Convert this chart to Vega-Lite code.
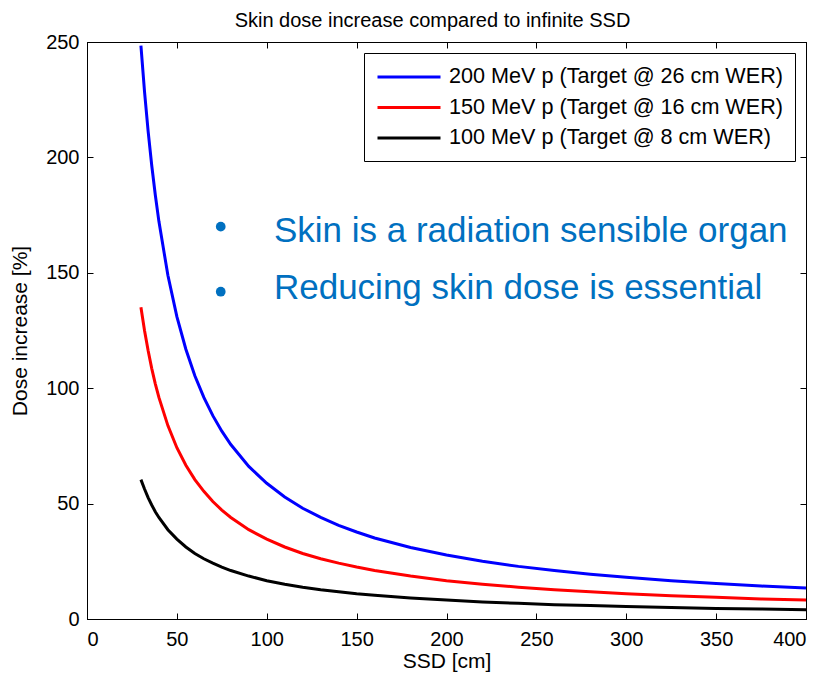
{
  "$schema": "https://vega.github.io/schema/vega-lite/v6.json",
  "width": 719,
  "height": 577,
  "autosize": {"type": "none"},
  "padding": {"left": 87, "top": 42, "right": 20, "bottom": 60},
  "background": "white",
  "title": {
    "text": "Skin dose increase compared to infinite SSD",
    "font": "Liberation Sans",
    "fontSize": 20,
    "fontWeight": "normal",
    "color": "black",
    "offset": 1,
    "dx": -14
  },
  "datasets": {
    "curves": [
      {"ssd": 30, "dose": 248.4, "beam": "200 MeV p (Target @ 26 cm WER)"},
      {"ssd": 32, "dose": 228.5, "beam": "200 MeV p (Target @ 26 cm WER)"},
      {"ssd": 34, "dose": 211.4, "beam": "200 MeV p (Target @ 26 cm WER)"},
      {"ssd": 36, "dose": 196.6, "beam": "200 MeV p (Target @ 26 cm WER)"},
      {"ssd": 38, "dose": 183.7, "beam": "200 MeV p (Target @ 26 cm WER)"},
      {"ssd": 40, "dose": 172.3, "beam": "200 MeV p (Target @ 26 cm WER)"},
      {"ssd": 45, "dose": 148.9, "beam": "200 MeV p (Target @ 26 cm WER)"},
      {"ssd": 50, "dose": 131.0, "beam": "200 MeV p (Target @ 26 cm WER)"},
      {"ssd": 55, "dose": 116.9, "beam": "200 MeV p (Target @ 26 cm WER)"},
      {"ssd": 60, "dose": 105.4, "beam": "200 MeV p (Target @ 26 cm WER)"},
      {"ssd": 65, "dose": 96.0, "beam": "200 MeV p (Target @ 26 cm WER)"},
      {"ssd": 70, "dose": 88.1, "beam": "200 MeV p (Target @ 26 cm WER)"},
      {"ssd": 75, "dose": 81.4, "beam": "200 MeV p (Target @ 26 cm WER)"},
      {"ssd": 80, "dose": 75.6, "beam": "200 MeV p (Target @ 26 cm WER)"},
      {"ssd": 90, "dose": 66.1, "beam": "200 MeV p (Target @ 26 cm WER)"},
      {"ssd": 100, "dose": 58.8, "beam": "200 MeV p (Target @ 26 cm WER)"},
      {"ssd": 110, "dose": 52.9, "beam": "200 MeV p (Target @ 26 cm WER)"},
      {"ssd": 120, "dose": 48.0, "beam": "200 MeV p (Target @ 26 cm WER)"},
      {"ssd": 130, "dose": 44.0, "beam": "200 MeV p (Target @ 26 cm WER)"},
      {"ssd": 140, "dose": 40.6, "beam": "200 MeV p (Target @ 26 cm WER)"},
      {"ssd": 150, "dose": 37.7, "beam": "200 MeV p (Target @ 26 cm WER)"},
      {"ssd": 160, "dose": 35.1, "beam": "200 MeV p (Target @ 26 cm WER)"},
      {"ssd": 180, "dose": 31.0, "beam": "200 MeV p (Target @ 26 cm WER)"},
      {"ssd": 200, "dose": 27.7, "beam": "200 MeV p (Target @ 26 cm WER)"},
      {"ssd": 220, "dose": 25.0, "beam": "200 MeV p (Target @ 26 cm WER)"},
      {"ssd": 240, "dose": 22.8, "beam": "200 MeV p (Target @ 26 cm WER)"},
      {"ssd": 260, "dose": 21.0, "beam": "200 MeV p (Target @ 26 cm WER)"},
      {"ssd": 280, "dose": 19.4, "beam": "200 MeV p (Target @ 26 cm WER)"},
      {"ssd": 300, "dose": 18.1, "beam": "200 MeV p (Target @ 26 cm WER)"},
      {"ssd": 325, "dose": 16.6, "beam": "200 MeV p (Target @ 26 cm WER)"},
      {"ssd": 350, "dose": 15.4, "beam": "200 MeV p (Target @ 26 cm WER)"},
      {"ssd": 375, "dose": 14.3, "beam": "200 MeV p (Target @ 26 cm WER)"},
      {"ssd": 400, "dose": 13.4, "beam": "200 MeV p (Target @ 26 cm WER)"},
      {"ssd": 30, "dose": 135.1, "beam": "150 MeV p (Target @ 16 cm WER)"},
      {"ssd": 32, "dose": 125.0, "beam": "150 MeV p (Target @ 16 cm WER)"},
      {"ssd": 34, "dose": 116.3, "beam": "150 MeV p (Target @ 16 cm WER)"},
      {"ssd": 36, "dose": 108.6, "beam": "150 MeV p (Target @ 16 cm WER)"},
      {"ssd": 38, "dose": 101.9, "beam": "150 MeV p (Target @ 16 cm WER)"},
      {"ssd": 40, "dose": 96.0, "beam": "150 MeV p (Target @ 16 cm WER)"},
      {"ssd": 45, "dose": 83.8, "beam": "150 MeV p (Target @ 16 cm WER)"},
      {"ssd": 50, "dose": 74.2, "beam": "150 MeV p (Target @ 16 cm WER)"},
      {"ssd": 55, "dose": 66.6, "beam": "150 MeV p (Target @ 16 cm WER)"},
      {"ssd": 60, "dose": 60.4, "beam": "150 MeV p (Target @ 16 cm WER)"},
      {"ssd": 65, "dose": 55.3, "beam": "150 MeV p (Target @ 16 cm WER)"},
      {"ssd": 70, "dose": 50.9, "beam": "150 MeV p (Target @ 16 cm WER)"},
      {"ssd": 75, "dose": 47.2, "beam": "150 MeV p (Target @ 16 cm WER)"},
      {"ssd": 80, "dose": 44.0, "beam": "150 MeV p (Target @ 16 cm WER)"},
      {"ssd": 90, "dose": 38.7, "beam": "150 MeV p (Target @ 16 cm WER)"},
      {"ssd": 100, "dose": 34.6, "beam": "150 MeV p (Target @ 16 cm WER)"},
      {"ssd": 110, "dose": 31.2, "beam": "150 MeV p (Target @ 16 cm WER)"},
      {"ssd": 120, "dose": 28.4, "beam": "150 MeV p (Target @ 16 cm WER)"},
      {"ssd": 130, "dose": 26.1, "beam": "150 MeV p (Target @ 16 cm WER)"},
      {"ssd": 140, "dose": 24.2, "beam": "150 MeV p (Target @ 16 cm WER)"},
      {"ssd": 150, "dose": 22.5, "beam": "150 MeV p (Target @ 16 cm WER)"},
      {"ssd": 160, "dose": 21.0, "beam": "150 MeV p (Target @ 16 cm WER)"},
      {"ssd": 180, "dose": 18.6, "beam": "150 MeV p (Target @ 16 cm WER)"},
      {"ssd": 200, "dose": 16.6, "beam": "150 MeV p (Target @ 16 cm WER)"},
      {"ssd": 220, "dose": 15.1, "beam": "150 MeV p (Target @ 16 cm WER)"},
      {"ssd": 240, "dose": 13.8, "beam": "150 MeV p (Target @ 16 cm WER)"},
      {"ssd": 260, "dose": 12.7, "beam": "150 MeV p (Target @ 16 cm WER)"},
      {"ssd": 280, "dose": 11.8, "beam": "150 MeV p (Target @ 16 cm WER)"},
      {"ssd": 300, "dose": 10.9, "beam": "150 MeV p (Target @ 16 cm WER)"},
      {"ssd": 325, "dose": 10.1, "beam": "150 MeV p (Target @ 16 cm WER)"},
      {"ssd": 350, "dose": 9.4, "beam": "150 MeV p (Target @ 16 cm WER)"},
      {"ssd": 375, "dose": 8.7, "beam": "150 MeV p (Target @ 16 cm WER)"},
      {"ssd": 400, "dose": 8.2, "beam": "150 MeV p (Target @ 16 cm WER)"},
      {"ssd": 30, "dose": 60.4, "beam": "100 MeV p (Target @ 8 cm WER)"},
      {"ssd": 32, "dose": 56.3, "beam": "100 MeV p (Target @ 8 cm WER)"},
      {"ssd": 34, "dose": 52.6, "beam": "100 MeV p (Target @ 8 cm WER)"},
      {"ssd": 36, "dose": 49.4, "beam": "100 MeV p (Target @ 8 cm WER)"},
      {"ssd": 38, "dose": 46.5, "beam": "100 MeV p (Target @ 8 cm WER)"},
      {"ssd": 40, "dose": 44.0, "beam": "100 MeV p (Target @ 8 cm WER)"},
      {"ssd": 45, "dose": 38.7, "beam": "100 MeV p (Target @ 8 cm WER)"},
      {"ssd": 50, "dose": 34.6, "beam": "100 MeV p (Target @ 8 cm WER)"},
      {"ssd": 55, "dose": 31.2, "beam": "100 MeV p (Target @ 8 cm WER)"},
      {"ssd": 60, "dose": 28.4, "beam": "100 MeV p (Target @ 8 cm WER)"},
      {"ssd": 65, "dose": 26.1, "beam": "100 MeV p (Target @ 8 cm WER)"},
      {"ssd": 70, "dose": 24.2, "beam": "100 MeV p (Target @ 8 cm WER)"},
      {"ssd": 75, "dose": 22.5, "beam": "100 MeV p (Target @ 8 cm WER)"},
      {"ssd": 80, "dose": 21.0, "beam": "100 MeV p (Target @ 8 cm WER)"},
      {"ssd": 90, "dose": 18.6, "beam": "100 MeV p (Target @ 8 cm WER)"},
      {"ssd": 100, "dose": 16.6, "beam": "100 MeV p (Target @ 8 cm WER)"},
      {"ssd": 110, "dose": 15.1, "beam": "100 MeV p (Target @ 8 cm WER)"},
      {"ssd": 120, "dose": 13.8, "beam": "100 MeV p (Target @ 8 cm WER)"},
      {"ssd": 130, "dose": 12.7, "beam": "100 MeV p (Target @ 8 cm WER)"},
      {"ssd": 140, "dose": 11.8, "beam": "100 MeV p (Target @ 8 cm WER)"},
      {"ssd": 150, "dose": 10.9, "beam": "100 MeV p (Target @ 8 cm WER)"},
      {"ssd": 160, "dose": 10.3, "beam": "100 MeV p (Target @ 8 cm WER)"},
      {"ssd": 180, "dose": 9.1, "beam": "100 MeV p (Target @ 8 cm WER)"},
      {"ssd": 200, "dose": 8.2, "beam": "100 MeV p (Target @ 8 cm WER)"},
      {"ssd": 220, "dose": 7.4, "beam": "100 MeV p (Target @ 8 cm WER)"},
      {"ssd": 240, "dose": 6.8, "beam": "100 MeV p (Target @ 8 cm WER)"},
      {"ssd": 260, "dose": 6.2, "beam": "100 MeV p (Target @ 8 cm WER)"},
      {"ssd": 280, "dose": 5.8, "beam": "100 MeV p (Target @ 8 cm WER)"},
      {"ssd": 300, "dose": 5.4, "beam": "100 MeV p (Target @ 8 cm WER)"},
      {"ssd": 325, "dose": 5.0, "beam": "100 MeV p (Target @ 8 cm WER)"},
      {"ssd": 350, "dose": 4.6, "beam": "100 MeV p (Target @ 8 cm WER)"},
      {"ssd": 375, "dose": 4.3, "beam": "100 MeV p (Target @ 8 cm WER)"},
      {"ssd": 400, "dose": 4.0, "beam": "100 MeV p (Target @ 8 cm WER)"}
    ],
    "notes": [
      {"ssd": 104, "dose": 163.5, "note": "Skin is a radiation sensible organ"},
      {"ssd": 104, "dose": 138.5, "note": "Reducing skin dose is essential"}
    ],
    "bullets": [
      {"ssd": 74.4, "dose": 170.0},
      {"ssd": 74.4, "dose": 141.8}
    ]
  },
  "layer": [
    {
      "data": {"name": "curves"},
      "mark": {"type": "line", "strokeWidth": 3, "clip": true},
      "encoding": {
        "x": {
          "field": "ssd",
          "type": "quantitative",
          "scale": {"domain": [0, 400], "nice": false, "zero": false},
          "axis": {
            "orient": "bottom",
            "title": "SSD [cm]",
            "values": [0, 50, 100, 150, 200, 250, 300, 350, 400],
            "labelPadding": 16,
            "titleY": 42,
            "titleBaseline": "middle"
          }
        },
        "y": {
          "field": "dose",
          "type": "quantitative",
          "scale": {"domain": [0, 250], "nice": false, "zero": false},
          "axis": {
            "orient": "left",
            "title": "Dose increase [%]",
            "values": [0, 50, 100, 150, 200, 250],
            "labelPadding": 14,
            "titleX": -67,
            "titleBaseline": "middle"
          }
        },
        "color": {
          "field": "beam",
          "type": "nominal",
          "scale": {
            "domain": [
              "200 MeV p (Target @ 26 cm WER)",
              "150 MeV p (Target @ 16 cm WER)",
              "100 MeV p (Target @ 8 cm WER)"
            ],
            "range": ["#0000ff", "#ff0000", "#000000"]
          },
          "legend": {
            "title": null,
            "orient": "none",
            "legendX": 277,
            "legendY": 11,
            "strokeColor": "black",
            "fillColor": "white",
            "padding": 12,
            "rowPadding": 7.5,
            "labelFont": "Liberation Sans",
            "labelFontSize": 21.6,
            "labelColor": "black",
            "labelLimit": 0,
            "labelOffset": 49,
            "symbolType": "M-1,0H5",
            "symbolSize": 441,
            "symbolStrokeWidth": 3
          }
        }
      }
    },
    {
      "data": {"name": "notes"},
      "mark": {
        "type": "text",
        "font": "Liberation Sans",
        "fontSize": 35,
        "color": "#0070c0",
        "align": "left",
        "baseline": "alphabetic"
      },
      "encoding": {
        "x": {
          "field": "ssd",
          "type": "quantitative",
          "scale": {"domain": [0, 400], "nice": false, "zero": false},
          "axis": {"orient": "top", "title": null, "labels": false, "values": [0, 50, 100, 150, 200, 250, 300, 350, 400]}
        },
        "y": {
          "field": "dose",
          "type": "quantitative",
          "scale": {"domain": [0, 250], "nice": false, "zero": false},
          "axis": {"orient": "right", "title": null, "labels": false, "values": [0, 50, 100, 150, 200, 250]}
        },
        "text": {"field": "note"}
      }
    },
    {
      "data": {"name": "bullets"},
      "mark": {"type": "point", "shape": "circle", "filled": true, "size": 95, "color": "#0070c0", "opacity": 1},
      "encoding": {
        "x": {"field": "ssd", "type": "quantitative", "scale": {"domain": [0, 400], "nice": false, "zero": false}, "axis": null},
        "y": {"field": "dose", "type": "quantitative", "scale": {"domain": [0, 250], "nice": false, "zero": false}, "axis": null}
      }
    }
  ],
  "resolve": {"axis": {"x": "independent", "y": "independent"}},
  "config": {
    "font": "Liberation Sans",
    "view": {"stroke": "black", "strokeWidth": 1},
    "axis": {
      "grid": false,
      "domainColor": "black",
      "domainWidth": 1,
      "tickColor": "black",
      "tickSize": -6,
      "labelPadding": 8,
      "labelFont": "Liberation Sans",
      "labelFontSize": 20,
      "labelColor": "black",
      "titleFont": "Liberation Sans",
      "titleFontSize": 21,
      "titleFontWeight": "normal",
      "titleColor": "black"
    }
  }
}
